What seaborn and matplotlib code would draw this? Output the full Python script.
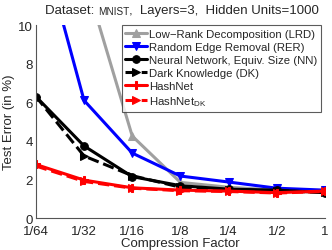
import matplotlib
matplotlib.use('Agg')
import matplotlib.pyplot as plt
import seaborn as sns

sns.set_style('white')
plt.rcParams['font.family'] = ['Liberation Sans', 'DejaVu Sans']
plt.rcParams['mathtext.fontset'] = 'custom'
plt.rcParams['mathtext.rm'] = 'Liberation Sans'

# data
factors = [1/64, 1/32, 1/16, 1/8, 1/4, 1/2, 1]
tick_labels = ['1/64', '1/32', '1/16', '1/8', '1/4', '1/2', '1']
lrd = [28.0, 12.6, 4.25, 1.85, 1.6, 1.45, 1.4]
rer = [15.3, 6.1, 3.37, 2.18, 1.87, 1.55, 1.45]
nn = [6.3, 3.74, 2.15, 1.68, 1.5, 1.45, 1.32]
dk = [6.3, 3.22, 2.2, 1.6, 1.47, 1.42, 1.33]
hashnet = [2.78, 1.97, 1.57, 1.45, 1.4, 1.32, 1.4]
hashnet_dk = [2.7, 1.9, 1.55, 1.42, 1.38, 1.3, 1.38]

series = [
    ('Low\u2212Rank Decomposition (LRD)', lrd, '#a0a0a0', '^', '-'),
    ('Random Edge Removal (RER)', rer, '#0000ff', 'v', '-'),
    ('Neural Network, Equiv. Size (NN)', nn, 'black', 'o', '-'),
    ('Dark Knowledge (DK)', dk, 'black', '>', '--'),
    ('HashNet', hashnet, '#ff0000', 'P', '-'),
    ('HashNet$_{\\mathrm{DK}}$', hashnet_dk, '#ff0000', '>', '--'),
]

fig = plt.figure(figsize=(3.32, 2.51), dpi=100)
ax = fig.add_axes([0.108, 0.127, 0.871, 0.769])

for label, vals, col, mk, ls in series:
    sns.lineplot(x=factors, y=vals, ax=ax, color=col, marker=mk, linestyle=ls,
                 lw=2.2, markersize=5.5, markeredgecolor=col, label=label)

ax.set_xscale('log', base=2)
ax.set_xlim(1/64, 1)
ax.set_ylim(0, 10)
ax.set_xticks(factors)
ax.set_xticklabels(tick_labels)
ax.set_yticks([0, 2, 4, 6, 8, 10])
ax.minorticks_off()
ax.tick_params(direction='in', length=3, width=0.8, color='#555555', labelsize=9.5, pad=2)
ax.tick_params(axis='x', pad=5)
for s in ['top', 'right']:
    ax.spines[s].set_visible(False)
for s in ['left', 'bottom']:
    ax.spines[s].set_color('#555555')
    ax.spines[s].set_linewidth(0.8)

ax.set_xlabel('Compression Factor', fontsize=9.5, labelpad=0)
ax.set_ylabel('Test Error (in %)', fontsize=9.5, labelpad=2)

leg = ax.legend(loc='upper right', bbox_to_anchor=(0.986, 1.0), fontsize=8.2,
                frameon=True, fancybox=False, handlelength=1.9, handletextpad=0.2,
                borderpad=0.3, labelspacing=0.28, borderaxespad=0.0)
leg.get_frame().set_edgecolor('#333333')
leg.get_frame().set_linewidth(0.8)

# title with small caps dataset name
t1 = fig.text(0.135, 0.945, 'Dataset: ', fontsize=9.5, va='baseline')
t2 = ax.annotate('MNIST', xy=(1, 0), xycoords=t1, fontsize=7.2, va='bottom')
t3 = ax.annotate(',  Layers=3,  Hidden Units=1000', xy=(1, 0), xycoords=t2,
                 fontsize=9.5, va='bottom')

fig.savefig('out.png', dpi=100)
